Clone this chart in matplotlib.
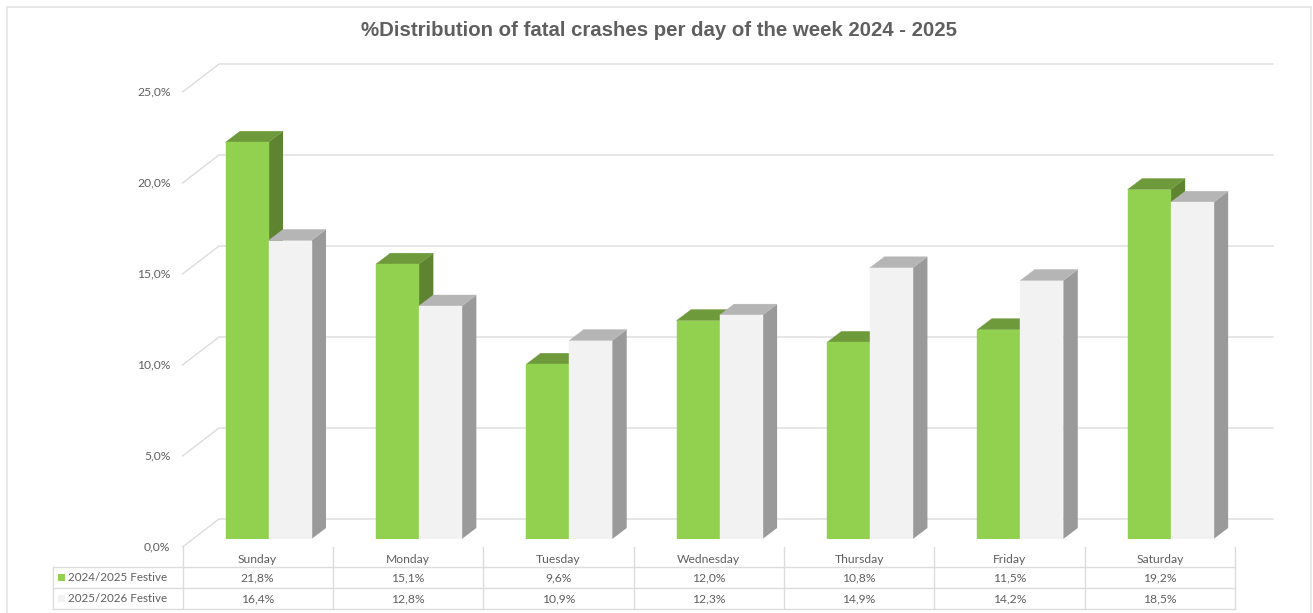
import matplotlib
matplotlib.use('Agg')
import matplotlib.pyplot as plt
from matplotlib.patches import Polygon, Rectangle

days = ['Sunday', 'Monday', 'Tuesday', 'Wednesday', 'Thursday', 'Friday', 'Saturday']
series_names = ['2024/2025 Festive', '2025/2026 Festive']
festive_2024 = [21.8, 15.1, 9.6, 12.0, 10.8, 11.5, 19.2]
festive_2025 = [16.4, 12.8, 10.9, 12.3, 14.9, 14.2, 18.5]
y_ticks = [0, 5, 10, 15, 20, 25]

W, H = 1313, 613
GRID = '#dcdcdc'
TEXT = '#5f5f5f'
LABEL_FONT = 'Lato'

# front face, top, side colours
green = ('#92d050', '#6f9a3c', '#5f8431')
white = ('#f2f2f2', '#b5b5b5', '#9a9a9a')

fig = plt.figure(figsize=(W / 100, H / 100), dpi=100, facecolor='white')

# overlay in pixel coordinates for frame, title and table
over = fig.add_axes([0, 0, 1, 1], zorder=3)
over.set_xlim(0, W)
over.set_ylim(H, 0)
over.axis('off')

# main axes: x in category units, y in percent
left, right = 182.5, 1235
y0_px, y25_px = 539, 84
ax = fig.add_axes([left / W, 1 - y0_px / H, (right - left) / W, (y0_px - y25_px) / H], zorder=2)
ax.set_xlim(0, len(days))
ax.set_ylim(0, 25)
ax.axis('off')

px_x = (right - left) / len(days)
px_y = (y0_px - y25_px) / 25

# 3d offsets in data units
bar_dx, bar_dy = 14.5 / px_x, 11 / px_y
front_dy = -8 / px_y
back_dx, back_dy = 36.5 / px_x, 20 / px_y
grid_end = (1273 - left) / px_x

for t in y_ticks:
    ax.plot([0, back_dx, grid_end], [t + front_dy, t + back_dy, t + back_dy],
            color=GRID, lw=1.0, clip_on=False, zorder=1, solid_joinstyle='miter')
    ax.text(-12 / px_x, t + front_dy + 0.02, f'{t:.1f}%'.replace('.', ','), ha='right', va='center',
            color=TEXT, fontsize=8.7, family=LABEL_FONT, clip_on=False)


def draw_bar(x0, w, v, cols, z):
    ax.add_patch(Polygon([(x0 + w, 0), (x0 + w + bar_dx, bar_dy), (x0 + w + bar_dx, v + bar_dy), (x0 + w, v)],
                         fc=cols[2], ec='none', zorder=z))
    ax.add_patch(Polygon([(x0, v), (x0 + bar_dx, v + bar_dy), (x0 + w + bar_dx, v + bar_dy), (x0 + w, v)],
                         fc=cols[1], ec=cols[1], lw=0.3, zorder=z))
    ax.add_patch(Rectangle((x0, 0), w, v, fc=cols[0], ec=cols[0], lw=0.3, zorder=z))


bar_w = 43 / px_x
bar_off = 43 / px_x
for i in range(len(days)):
    draw_bar(i + bar_off, bar_w, festive_2024[i], green, 2 + i)
    draw_bar(i + bar_off + bar_w, bar_w, festive_2025[i], white, 2.5 + i)

# chart frame (no line along the bottom)
over.plot([6.5, 6.5, 1310.5, 1310.5], [H, 6.5, 6.5, H], color='#e2e2e2', lw=1.1, solid_joinstyle='miter')

over.text(659, 30, '%Distribution of fatal crashes per day of the week 2024 - 2025', ha='center', va='center',
          color=TEXT, fontsize=14.67, fontweight='bold', family='Liberation Sans')

# data table
tl = 53
rows = [546.5, 567, 588, 609]
for ry in rows[1:]:
    over.plot([tl, right], [ry, ry], color=GRID, lw=1.0)
over.plot([tl, tl], [rows[1], rows[3]], color=GRID, lw=1.0)
for i in range(len(days) + 1):
    xp = left + i * px_x
    over.plot([xp, xp], [rows[0], rows[3]], color=GRID, lw=1.0)

for i, d in enumerate(days):
    xc = left + (i + 0.5) * px_x
    over.text(xc, 559.5, d, ha='center', va='center', color=TEXT, fontsize=8.7, family=LABEL_FONT)
    over.text(xc, 577.5, f'{festive_2024[i]:.1f}%'.replace('.', ','), ha='center', va='center',
              color=TEXT, fontsize=8.7, family=LABEL_FONT)
    over.text(xc, 598.5, f'{festive_2025[i]:.1f}%'.replace('.', ','), ha='center', va='center',
              color=TEXT, fontsize=8.7, family=LABEL_FONT)

for ry, name, cols in zip([577.5, 598.5], series_names, [green, white]):
    over.add_patch(Rectangle((58, ry - 3.5), 7, 7, fc=cols[0], ec='none'))
    over.text(68, ry, name, ha='left', va='center', color=TEXT, fontsize=8.4, family=LABEL_FONT)

fig.savefig('out.png', dpi=100, facecolor='white')
